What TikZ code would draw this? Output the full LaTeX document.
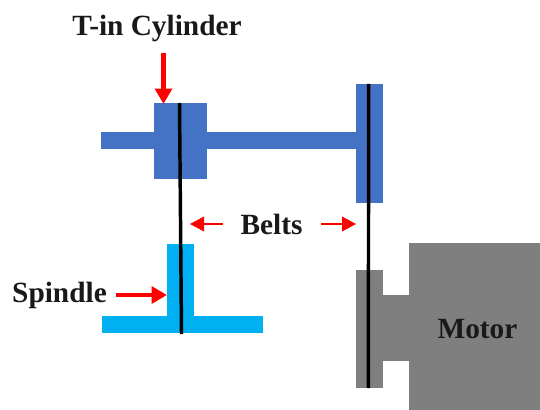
\documentclass[tikz,border=0pt]{standalone}
\usepackage{fontspec}
\setmainfont{Liberation Serif}
\usetikzlibrary{arrows.meta, positioning}
\definecolor{pulleyblue}{HTML}{4472C4}
\definecolor{spindleblue}{HTML}{00B0F0}
\definecolor{motorgray}{HTML}{7F7F7F}
\tikzset{
  part/.style={rectangle, inner sep=0pt, outer sep=0pt},
  blue part/.style={part, fill=pulleyblue},
  cyan part/.style={part, fill=spindleblue},
  gray part/.style={part, fill=motorgray},
  belt/.style={draw=black, line width=2.6pt},
  label/.style={font=\fontsize{22}{22}\selectfont\bfseries, text=black!90, inner sep=0pt},
  big arrow/.style={draw=red, line width=3.6pt, -{Triangle[length=11.5pt, width=12.5pt]}},
  small arrow/.style={draw=red, line width=1.1pt, -{Triangle[length=10.5pt, width=11pt]}},
}
\begin{document}
\begin{tikzpicture}[x=0.75pt, y=-0.75pt]
        \useasboundingbox (0,0) rectangle (540,410);

        \node[blue part, minimum width=191.25pt, minimum height=12.75pt] (shaft) at (228.5,140.5) {};
        \node[blue part, minimum width=40.1pt, minimum height=57pt] (hub) at (180.25,141) {};
        \node[blue part, minimum width=20.6pt, minimum height=89.25pt] (drive) at (369.75,143.5) {};

        \node[cyan part, minimum width=20.25pt, minimum height=60pt] (stem) at (180.5,284) {};
        \node[cyan part, minimum width=121.1pt, minimum height=12.4pt] (base) at (182.25,324.5) {};

        \node[gray part, minimum width=98pt, minimum height=125pt, anchor=north east] (motor) at (540,243.5) {};
        \node[gray part, minimum width=20.6pt, minimum height=49.5pt] (neck) at (396.5,328.25) {};
        \node[gray part, minimum width=20.6pt, minimum height=88.5pt] (motorpulley) at (369.25,329) {};

        \coordinate (belt1top) at (179.5,103);
        \coordinate (belt1bot) at (181.5,334);
        \coordinate (belt2top) at (368.6,84);
        \coordinate (belt2bot) at (368.4,388);
        \draw[belt] (belt1top) -- (belt1bot);
        \draw[belt] (belt2top) -- (belt2bot);

        \node[label] (tin) at (157,28.5) {T-in Cylinder};
        \node[label] (belts) at (271.5,224.5) {Belts};
        \node[label] (spindle) at (59.5,295.5) {Spindle};
        \node[label] (motorlabel) at (477.5,329) {Motor};

        \coordinate (tintail) at (163.5,53);
        \coordinate (tinhead) at (163.5,104);
        \coordinate (spintail) at (115.5,295);
        \coordinate (spinhead) at (167,295);
        \coordinate (beltltail) at (223,224);
        \coordinate (beltlhead) at (190,224);
        \coordinate (beltrtail) at (321,224);
        \coordinate (beltrhead) at (356,224);
        \draw[big arrow] (tintail) -- (tinhead);
        \draw[big arrow] (spintail) -- (spinhead);
        \draw[small arrow] (beltltail) -- (beltlhead);
        \draw[small arrow] (beltrtail) -- (beltrhead);
      \end{tikzpicture}
\end{document}
